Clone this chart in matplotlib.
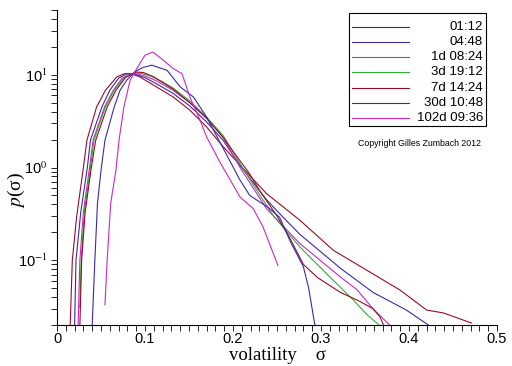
import numpy as np
import matplotlib
matplotlib.use('Agg')
import matplotlib.pyplot as plt
from matplotlib.ticker import FixedLocator, MultipleLocator, LogLocator, NullFormatter
from matplotlib.patches import Rectangle
from matplotlib.lines import Line2D

plt.rcParams['mathtext.fontset'] = 'stix'

# volatility distributions p(sigma) for several time horizons
labels = ['01:12', '04:48', '1d 08:24', '3d 19:12', '7d 14:24', '30d 10:48', '102d 09:36']
colors = ['#9a0a28', '#3a2aa8', '#c828c8', '#30b030', '#9a0a28', '#3a2aa8', '#c828c8']

x_0112 = [0.015, 0.0174, 0.0224, 0.030, 0.034, 0.045, 0.055, 0.068, 0.077, 0.085, 0.094, 0.113,
          0.132, 0.151, 0.170, 0.189, 0.208, 0.238, 0.276, 0.314, 0.352, 0.390, 0.420, 0.439, 0.471]
y_0112 = [0.02, 0.1, 0.3, 1.0, 1.97, 4.5, 6.8, 9.5, 10.3, 10.2, 9.5, 7.4,
          5.77, 4.15, 2.74, 1.67, 1.06, 0.524, 0.27, 0.128, 0.078, 0.0475, 0.029, 0.027, 0.021]

x_0448 = [0.020, 0.0216, 0.027, 0.0345, 0.038, 0.051, 0.060, 0.070, 0.080, 0.088, 0.100, 0.113,
          0.132, 0.151, 0.170, 0.189, 0.208, 0.238, 0.257, 0.276, 0.322, 0.359, 0.397, 0.422]
y_0448 = [0.02, 0.1, 0.33, 1.0, 1.97, 4.5, 6.8, 9.2, 10.3, 10.2, 9.3, 8.0,
          6.3, 4.6, 3.1, 1.95, 1.05, 0.45, 0.29, 0.19, 0.082, 0.045, 0.029, 0.02]

x_1d = [0.024, 0.026, 0.030, 0.037, 0.041, 0.054, 0.064, 0.074, 0.084, 0.092, 0.100, 0.113,
        0.132, 0.151, 0.170, 0.189, 0.208, 0.238, 0.276, 0.322, 0.341, 0.359, 0.378]
y_1d = [0.02, 0.1, 0.33, 1.0, 1.97, 4.5, 6.8, 9.2, 10.2, 10.2, 9.7, 8.6,
        6.8, 5.0, 3.4, 2.1, 1.0, 0.36, 0.151, 0.066, 0.048, 0.030, 0.02]

x_3d = [0.026, 0.0275, 0.031, 0.038, 0.042, 0.055, 0.065, 0.076, 0.087, 0.095, 0.105, 0.120,
        0.132, 0.151, 0.170, 0.189, 0.208, 0.223, 0.246, 0.276, 0.306, 0.337, 0.352, 0.366]
y_3d = [0.031, 0.1, 0.33, 1.0, 1.97, 4.5, 6.8, 9.3, 10.4, 10.4, 9.8, 8.4,
        7.2, 5.2, 3.5, 2.2, 1.1, 0.65, 0.3, 0.139, 0.072, 0.037, 0.026, 0.02]

x_7d = [0.026, 0.028, 0.032, 0.039, 0.044, 0.057, 0.067, 0.078, 0.090, 0.098, 0.110, 0.132,
        0.151, 0.170, 0.189, 0.200, 0.219, 0.231, 0.250, 0.265, 0.280, 0.296, 0.322, 0.344,
        0.359, 0.367, 0.371]
y_7d = [0.02, 0.1, 0.33, 1.0, 1.97, 4.5, 6.8, 9.4, 10.7, 10.6, 9.5, 7.0,
        5.0, 3.4, 2.1, 1.5, 0.85, 0.55, 0.3, 0.17, 0.09, 0.065, 0.045, 0.036,
        0.030, 0.0245, 0.02]

x_30d = [0.040, 0.043, 0.046, 0.050, 0.0545, 0.065, 0.0716, 0.079, 0.0886, 0.0976, 0.1076, 0.125,
         0.140, 0.155, 0.170, 0.189, 0.208, 0.219, 0.240, 0.253, 0.265, 0.280, 0.286, 0.293]
y_30d = [0.02, 0.1, 0.41, 0.93, 1.97, 4.5, 6.8, 8.7, 10.8, 12.0, 12.7, 11.2,
         7.4, 5.77, 3.5, 1.6, 0.73, 0.5, 0.37, 0.29, 0.16, 0.085, 0.05, 0.02]

x_102d = [0.0545, 0.057, 0.061, 0.067, 0.0705, 0.076, 0.083, 0.0886, 0.100, 0.109, 0.121, 0.132,
          0.142, 0.151, 0.1625, 0.170, 0.185, 0.208, 0.223, 0.234, 0.251]
y_102d = [0.033, 0.1, 0.41, 0.94, 1.97, 4.5, 8.7, 10.8, 16.3, 17.6, 14.3, 11.7,
          10.3, 5.77, 3.24, 2.14, 1.15, 0.48, 0.36, 0.23, 0.088]

series = [(x_0112, y_0112), (x_0448, y_0448), (x_1d, y_1d), (x_3d, y_3d),
          (x_7d, y_7d), (x_30d, y_30d), (x_102d, y_102d)]

xtick_vals = [0, 0.1, 0.2, 0.3, 0.4, 0.5]
xtick_labels = ['0', '0.1', '0.2', '0.3', '0.4', '0.5']
ytick_vals = [0.1, 1, 10]
ytick_labels = ['10$^{-1}$', '10$^{0}$', '10$^{1}$']

W, H = 512, 366
fig = plt.figure(figsize=(W / 100, H / 100), dpi=100)
fig.patch.set_facecolor('white')
ax = fig.add_axes([57 / W, 1 - 325 / H, 440 / W, (325 - 10) / H])

for (xs, ys), c in zip(series, colors):
    ax.plot(xs, ys, color=c, linewidth=0.8)

ax.set_yscale('log')
ax.set_xlim(0, 0.5)
ax.set_ylim(0.02, 50)

for side in ['top', 'right']:
    ax.spines[side].set_visible(False)
for side in ['left', 'bottom']:
    ax.spines[side].set_linewidth(0.8)

tick_font = {'family': 'Liberation Sans', 'size': 10.5}
ax.xaxis.set_major_locator(FixedLocator(xtick_vals))
ax.set_xticklabels(xtick_labels, fontdict=tick_font)
ax.xaxis.set_minor_locator(MultipleLocator(0.01))
ax.yaxis.set_major_locator(FixedLocator(ytick_vals))
ax.set_yticklabels(ytick_labels, fontdict=tick_font)
ax.yaxis.set_minor_locator(LogLocator(base=10, subs=np.arange(2, 10)))
ax.yaxis.set_minor_formatter(NullFormatter())
ax.tick_params(which='both', direction='out', length=4, width=0.6, color='black')
ax.tick_params(axis='x', which='major', pad=1)
ax.tick_params(axis='y', which='major', pad=3)

fig.text(277 / W, 1 - 356 / H, 'volatility    σ', ha='center', va='center',
         family='Liberation Serif', size=13.5)
fig.text(16 / W, 1 - 190 / H, '$p$(σ)', ha='center', va='center',
         rotation=90, family='Liberation Serif', size=14)

# legend box drawn by hand so the labels can be right-aligned
fig.add_artist(Rectangle((349 / W, 1 - 126 / H), (486 - 349) / W, (126 - 13) / H,
                         transform=fig.transFigure, fill=False, edgecolor='black', linewidth=0.8))
row_y = [26.7, 42.3, 57.3, 72.3, 88.0, 103.3, 118.3]
for lab, c, ry in zip(labels, colors, row_y):
    fig.add_artist(Line2D([352 / W, 409 / W], [1 - ry / H, 1 - ry / H],
                          transform=fig.transFigure, color=c, linewidth=0.8))
    fig.text(483 / W, 1 - ry / H, lab, ha='right', va='center',
             family='Liberation Sans', size=9.5)

fig.text(420 / W, 1 - 144 / H, 'Copyright Gilles Zumbach 2012', ha='center', va='center',
         family='Liberation Sans', size=6.3)

fig.savefig('out.png', dpi=100)
